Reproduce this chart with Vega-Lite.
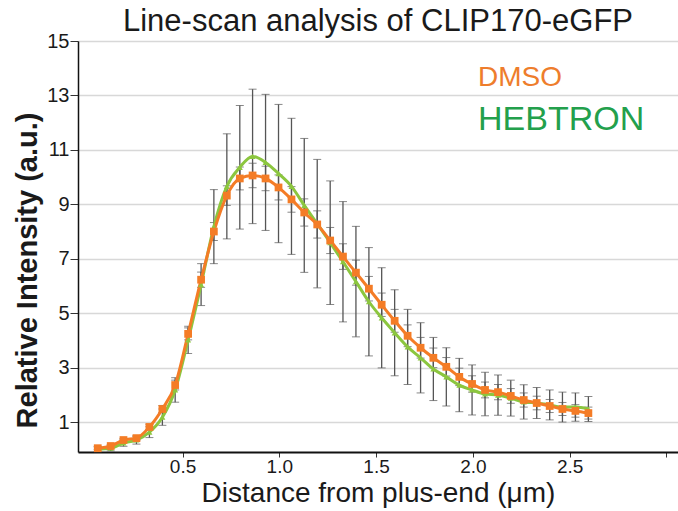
{
  "$schema": "https://vega.github.io/schema/vega-lite/v6.json",
  "width": 600,
  "height": 411,
  "autosize": {"type": "none"},
  "padding": {"left": 78, "top": 41, "right": 0, "bottom": 59},
  "background": "white",
  "config": {
    "view": {"stroke": null},
    "font": "Liberation Sans"
  },
  "title": {"text": "Line-scan analysis of CLIP170-eGFP", "anchor": "middle", "frame": "group", "fontSize": 31, "fontWeight": "normal", "color": "#1a1a1a", "offset": 3, "dy": 10},
  "datasets": {
    "pts": [
      {"series":"HEBTRON","x":0.062,"y":0.01,"err":0.1},
      {"series":"HEBTRON","x":0.129,"y":0.04,"err":0.1},
      {"series":"HEBTRON","x":0.195,"y":0.23,"err":0.12},
      {"series":"HEBTRON","x":0.262,"y":0.34,"err":0.15},
      {"series":"HEBTRON","x":0.329,"y":0.63,"err":0.2},
      {"series":"HEBTRON","x":0.396,"y":1.18,"err":0.3},
      {"series":"HEBTRON","x":0.462,"y":2.18,"err":0.45},
      {"series":"HEBTRON","x":0.529,"y":4.02,"err":0.5},
      {"series":"HEBTRON","x":0.596,"y":6.05,"err":0.77},
      {"series":"HEBTRON","x":0.662,"y":8.18,"err":1.36},
      {"series":"HEBTRON","x":0.729,"y":9.66,"err":1.93},
      {"series":"HEBTRON","x":0.796,"y":10.36,"err":2.27},
      {"series":"HEBTRON","x":0.862,"y":10.76,"err":2.47},
      {"series":"HEBTRON","x":0.929,"y":10.54,"err":2.5},
      {"series":"HEBTRON","x":0.996,"y":10.13,"err":2.54},
      {"series":"HEBTRON","x":1.063,"y":9.66,"err":2.5},
      {"series":"HEBTRON","x":1.129,"y":8.96,"err":2.46},
      {"series":"HEBTRON","x":1.196,"y":8.29,"err":2.36},
      {"series":"HEBTRON","x":1.263,"y":7.59,"err":2.27},
      {"series":"HEBTRON","x":1.329,"y":6.89,"err":2.21},
      {"series":"HEBTRON","x":1.396,"y":6.16,"err":2.03},
      {"series":"HEBTRON","x":1.463,"y":5.42,"err":1.99},
      {"series":"HEBTRON","x":1.529,"y":4.83,"err":1.84},
      {"series":"HEBTRON","x":1.596,"y":4.28,"err":1.58},
      {"series":"HEBTRON","x":1.663,"y":3.76,"err":1.38},
      {"series":"HEBTRON","x":1.73,"y":3.36,"err":1.29},
      {"series":"HEBTRON","x":1.796,"y":2.95,"err":1.16},
      {"series":"HEBTRON","x":1.863,"y":2.66,"err":1.07},
      {"series":"HEBTRON","x":1.93,"y":2.36,"err":0.98},
      {"series":"HEBTRON","x":1.996,"y":2.18,"err":0.92},
      {"series":"HEBTRON","x":2.063,"y":2.03,"err":0.8},
      {"series":"HEBTRON","x":2.13,"y":1.99,"err":0.74},
      {"series":"HEBTRON","x":2.196,"y":1.88,"err":0.66},
      {"series":"HEBTRON","x":2.263,"y":1.74,"err":0.63},
      {"series":"HEBTRON","x":2.33,"y":1.7,"err":0.57},
      {"series":"HEBTRON","x":2.397,"y":1.63,"err":0.55},
      {"series":"HEBTRON","x":2.463,"y":1.55,"err":0.55},
      {"series":"HEBTRON","x":2.53,"y":1.55,"err":0.52},
      {"series":"HEBTRON","x":2.597,"y":1.48,"err":0.46},
      {"series":"DMSO","x":0.062,"y":0.04,"err":0.05},
      {"series":"DMSO","x":0.129,"y":0.12,"err":0.05},
      {"series":"DMSO","x":0.195,"y":0.34,"err":0.06},
      {"series":"DMSO","x":0.262,"y":0.41,"err":0.07},
      {"series":"DMSO","x":0.329,"y":0.82,"err":0.1},
      {"series":"DMSO","x":0.396,"y":1.48,"err":0.13},
      {"series":"DMSO","x":0.462,"y":2.36,"err":0.18},
      {"series":"DMSO","x":0.529,"y":4.24,"err":0.22},
      {"series":"DMSO","x":0.596,"y":6.23,"err":0.28},
      {"series":"DMSO","x":0.662,"y":8.0,"err":0.33},
      {"series":"DMSO","x":0.729,"y":9.32,"err":0.36},
      {"series":"DMSO","x":0.796,"y":9.95,"err":0.42},
      {"series":"DMSO","x":0.862,"y":10.06,"err":0.45},
      {"series":"DMSO","x":0.929,"y":9.95,"err":0.45},
      {"series":"DMSO","x":0.996,"y":9.62,"err":0.46},
      {"series":"DMSO","x":1.063,"y":9.18,"err":0.47},
      {"series":"DMSO","x":1.129,"y":8.7,"err":0.5},
      {"series":"DMSO","x":1.196,"y":8.26,"err":0.5},
      {"series":"DMSO","x":1.263,"y":7.67,"err":0.48},
      {"series":"DMSO","x":1.329,"y":7.08,"err":0.47},
      {"series":"DMSO","x":1.396,"y":6.49,"err":0.46},
      {"series":"DMSO","x":1.463,"y":5.9,"err":0.45},
      {"series":"DMSO","x":1.529,"y":5.31,"err":0.43},
      {"series":"DMSO","x":1.596,"y":4.72,"err":0.42},
      {"series":"DMSO","x":1.663,"y":4.17,"err":0.4},
      {"series":"DMSO","x":1.73,"y":3.73,"err":0.38},
      {"series":"DMSO","x":1.796,"y":3.36,"err":0.36},
      {"series":"DMSO","x":1.863,"y":3.03,"err":0.34},
      {"series":"DMSO","x":1.93,"y":2.66,"err":0.32},
      {"series":"DMSO","x":1.996,"y":2.4,"err":0.3},
      {"series":"DMSO","x":2.063,"y":2.18,"err":0.29},
      {"series":"DMSO","x":2.13,"y":2.1,"err":0.28},
      {"series":"DMSO","x":2.196,"y":1.96,"err":0.27},
      {"series":"DMSO","x":2.263,"y":1.81,"err":0.26},
      {"series":"DMSO","x":2.33,"y":1.7,"err":0.25},
      {"series":"DMSO","x":2.397,"y":1.59,"err":0.24},
      {"series":"DMSO","x":2.463,"y":1.48,"err":0.24},
      {"series":"DMSO","x":2.53,"y":1.41,"err":0.23},
      {"series":"DMSO","x":2.597,"y":1.33,"err":0.22}
    ]
  },
  "data": {"name": "pts"},
  "encoding": {
    "x": {
      "field": "x", "type": "quantitative",
      "scale": {"domain": [-0.04, 3.06], "nice": false, "zero": false},
      "axis": {
        "title": "Distance from plus-end (\u03bcm)",
        "titleFontSize": 28, "titleFontWeight": "normal", "titleColor": "#1a1a1a", "titlePadding": 3,
        "values": [0.5, 1.0, 1.5, 2.0, 2.5, 3.0],
        "labelExpr": "datum.value < 2.9 ? format(datum.value, '.1f') : ''",
        "labelFontSize": 19, "labelColor": "#1a1a1a", "labelPadding": 0,
        "tickSize": 5, "tickColor": "#333", "tickWidth": 1,
        "grid": false, "domainColor": "#111", "domainWidth": 2
      }
    },
    "y": {
      "field": "y", "type": "quantitative",
      "scale": {"domain": [-0.1, 15], "nice": false, "zero": false},
      "axis": {
        "title": "Relative Intensity (a.u.)",
        "titleFontSize": 29, "titleFontWeight": "bold", "titleColor": "#1a1a1a",
        "titleY": 229, "titleX": -36, "titleBaseline": "bottom",
        "values": [1, 3, 5, 7, 9, 11, 13, 15],
        "labelFontSize": 20, "labelColor": "#1a1a1a", "labelPadding": 1,
        "tickSize": 8, "tickColor": "#333", "tickWidth": 1,
        "grid": true, "gridColor": "#d8d8d8", "gridWidth": 1.5,
        "domainColor": "#111", "domainWidth": 1.5
      }
    },
    "color": {
      "field": "series", "type": "nominal",
      "scale": {"domain": ["DMSO", "HEBTRON"], "range": ["#f47c26", "#8cc63f"]},
      "legend": {
        "title": null, "orient": "none", "legendX": 366, "legendY": 20,
        "symbolSize": 0, "symbolStrokeWidth": 0, "symbolOpacity": 0, "labelOffset": 0,
        "labelLimit": 400,
        "labelFontSize": {"expr": "datum.value == 'DMSO' ? 28 : 34"}, "rowPadding": 11,
        "labelColor": {"expr": "datum.value == 'DMSO' ? '#ee7d2c' : '#23a04c'"}
      }
    }
  },
  "layer": [
    {
      "mark": {"type": "errorbar", "ticks": {"size": 8, "color": "#444", "strokeWidth": 1.3}, "rule": {"color": "#555", "strokeWidth": 1.3}},
      "encoding": {
        "y": {"field": "y", "type": "quantitative"},
        "yError": {"field": "err"},
        "color": {"value": "#555"}
      }
    },
    {
      "mark": {"type": "line", "interpolate": "monotone", "strokeWidth": 3},
      "encoding": {}
    },
    {
      "mark": {"type": "point", "filled": true, "opacity": 1},
      "encoding": {
        "shape": {"field": "series", "type": "nominal", "scale": {"domain": ["DMSO", "HEBTRON"], "range": ["square", "triangle-up"]}, "legend": null},
        "size": {"field": "series", "type": "nominal", "scale": {"domain": ["DMSO", "HEBTRON"], "range": [60, 36]}, "legend": null}
      }
    }
  ]
}
